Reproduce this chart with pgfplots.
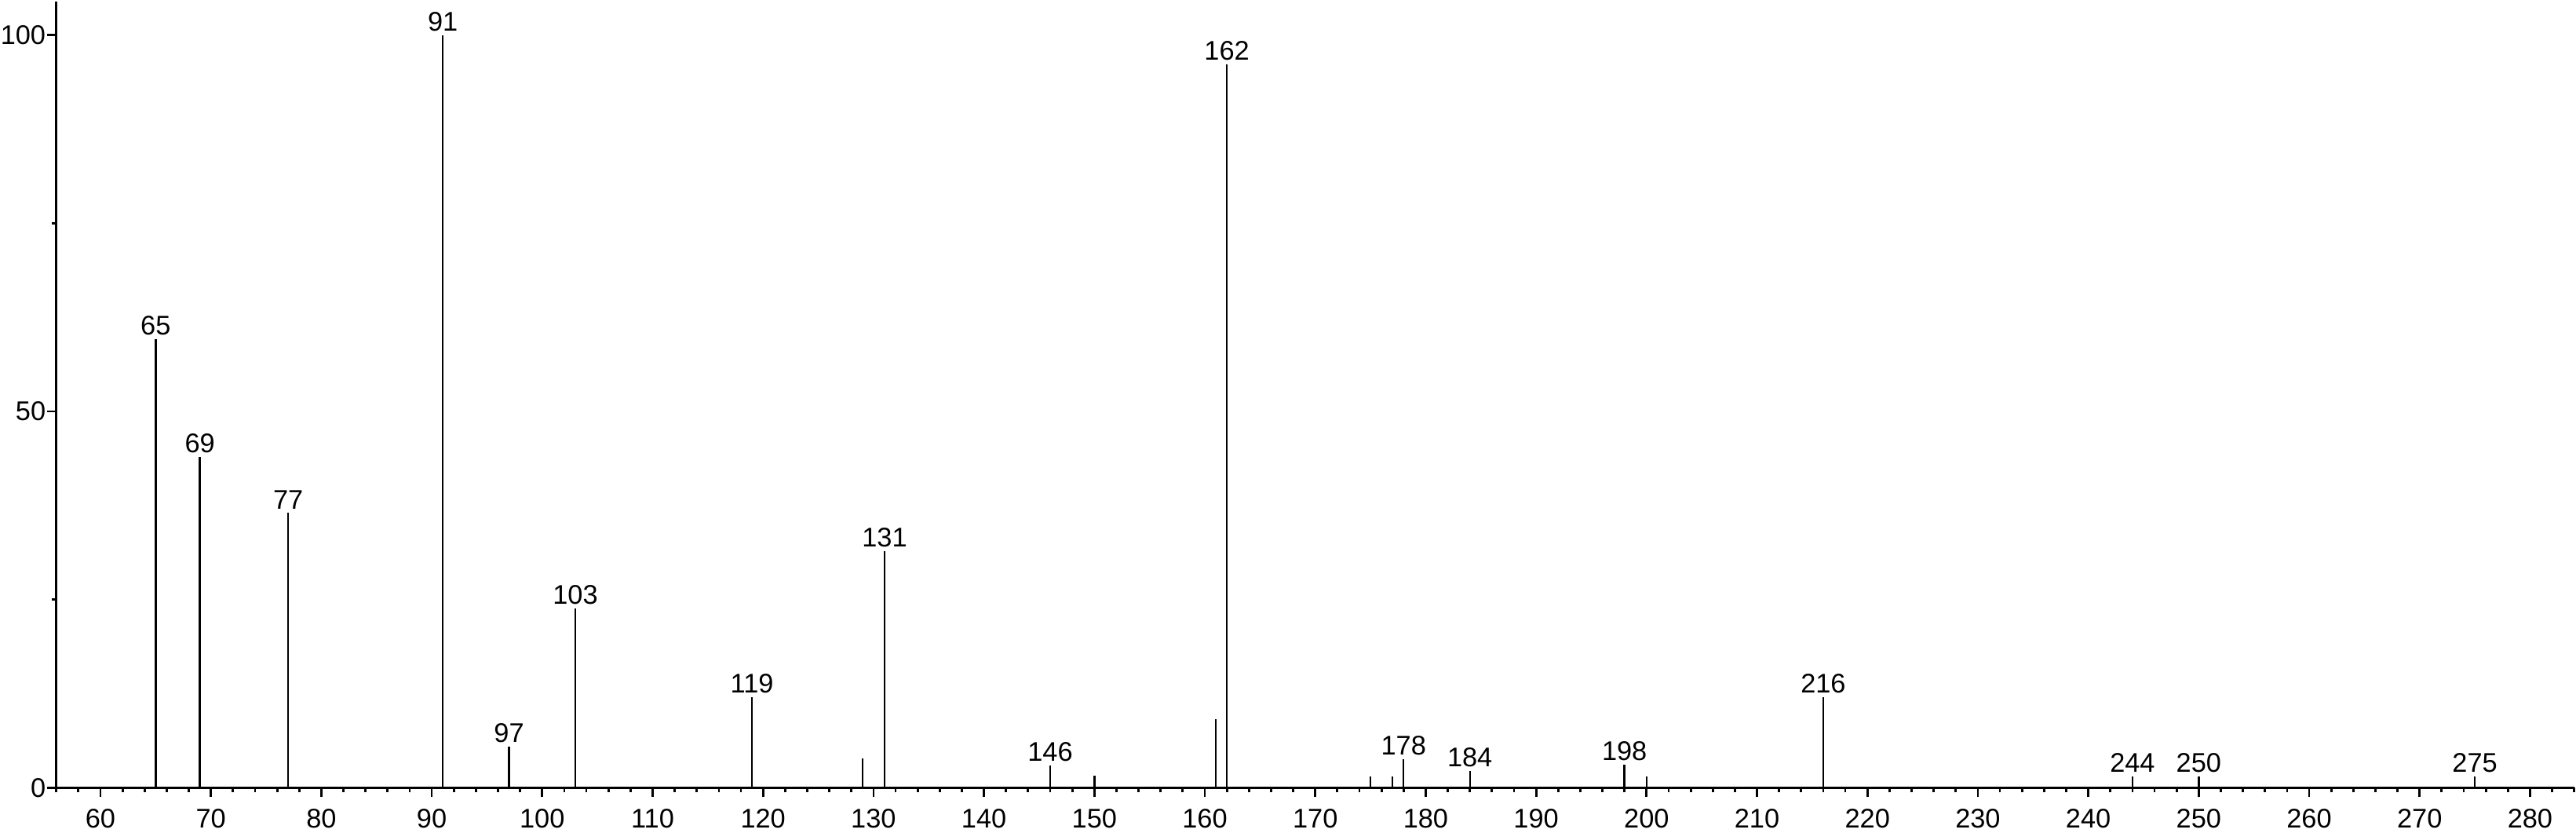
\documentclass[border=0pt]{standalone}
\usepackage{fontspec}
\setmainfont{Liberation Sans}
\usepackage{pgfplots}
\pgfplotsset{compat=1.18}
\begin{document}
\begin{tikzpicture}
\begin{axis}[
  scale only axis,
  width=803.25pt, height=250.75pt,
  xmin=56, xmax=284.05, ymin=0, ymax=104.5,
  axis x line=bottom, axis y line=left,
  axis line style={-, line width=0.8pt},
  xtick={60,70,...,280},
  minor xtick={56,58,...,284},
  ytick={0,50,100},
  minor ytick={25,75},
  tick align=outside,
  major tick length=3pt, minor tick length=1.5pt,
  every tick/.style={black, line width=0.7pt},
  tick label style={font=\fontsize{8.6}{10}\selectfont},
  xticklabel style={inner ysep=1.5pt, inner xsep=0pt, yshift=-2.1pt},
  yticklabel style={inner xsep=0.2pt, inner ysep=0pt},
  /pgf/number format/assume math mode=true,
  clip=false,
]
% unlabelled peaks
\addplot[ycomb, black, line width=0.6pt] coordinates {
  (129,3.9) (150,1.6) (161,9.1) (175,1.5) (177,1.5) (200,1.5)
};
% labelled peaks
\addplot[ycomb, black, line width=0.6pt,
  nodes near coords, point meta=x,
  every node near coord/.append style={font=\fontsize{8.6}{10}\selectfont, anchor=south, inner sep=1pt,
    /pgf/number format/.cd, fixed, precision=0, 1000 sep={}, assume math mode=true}]
  coordinates {
  (65,59.6) (69,43.9) (77,36.5) (91,100) (97,5.5) (103,23.8) (119,12.0)
  (131,31.4) (146,2.9) (162,96.1) (178,3.8) (184,2.2) (198,3.1) (216,12.0)
  (244,1.5) (250,1.5) (275,1.5)
};
\end{axis}
\end{tikzpicture}
\end{document}
